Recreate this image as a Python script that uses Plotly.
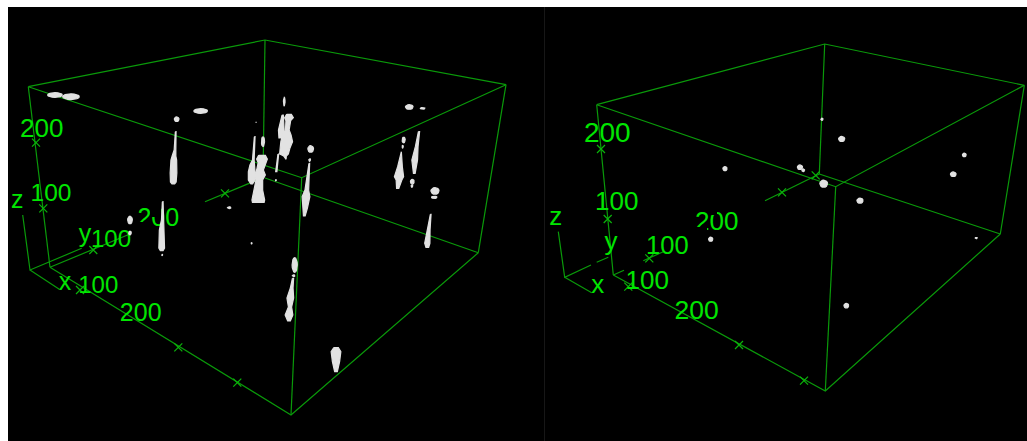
import numpy as np
import plotly.graph_objects as go

# ---- left view: box corners (A-D top, E-H bottom)
L_EDGE_X = [28.3,265,506,301.7,28.3,None,50,291,478.3,None,265,478.3,None,50,130,None,205,263,None,
            28.3,50,None,265,263,None,506,478.3,None,301.7,291,None,
            22.7,30,81.7,None,30,59.3]
L_EDGE_Y = [86.7,40,84.7,177.7,86.7,None,267.3,415,252.7,None,178,252.7,None,267.3,234,None,201.7,177.6,None,
            86.7,267.3,None,40,177.6,None,84.7,252.7,None,177.7,415,None,
            215,270,248.3,None,270,289.3]
L_TICK_X = [80,178.3,237.3,93.3,225,36,43.3]
L_TICK_Y = [290,347.3,382.7,250,193.3,142.7,208.3]
L_LABELS = ["200","100","z","y","100","200","x","100","200"]
L_LABEL_X = [41.7,51,17.3,85,111,158.3,65,98.3,140.7]
L_LABEL_Y = [130,195,201.5,236,241,220,284,287,315]
L_LABEL_SIZE = [26,24.5,25,25,24,25,25,24,25]
# parts of the "200" label hidden by the volume
L_HIDE_X = [135,151,151,135,135,None,150,161,161,150,150]
L_HIDE_Y = [222,222,235,235,222,None,206,206,217,217,206]

# left view: elongated objects, one list per object (row, centre, width)
L_STALK_Y = [
 [131.7,150,156,160,173,182,184],
 [201.7,220,230,248,250.7],
 [115,121.7,130,138],
 [114.3,117.7,120.7,130,135,141.7,148.3,154,156,159.3],
 [154,171.7],
 [136.7,160,165,171.7,180,184],
 [155.3,159,162.7,170,175,180,190,200,202.3],
 [163.3,183.3,190,196.7,208.3,216],
 [278.3,288,298,307,315,321],
 [347.7,351.7,361.7,371.7],
 [151.7,166.7,176.7,180,188.3],
 [131.7,146.7,160,173.3],
 [214.3,230,243.3,247.3],
]
L_STALK_X = [
 [175.7,175,174,173.8,173.5,173.3,173.3],
 [162.7,162.3,161.7,161.7,161.7],
 [282.7,282,281.3,281.3],
 [289,289,288.3,287.3,286.7,286.7,285,284,285,285.7],
 [278.3,276.3],
 [254.7,253.3,252.3,251.7,251.7,251.7],
 [262,262,262,260,260,259.3,258.3,258.3,258.3],
 [309.3,307.3,306.8,306,305,304.3],
 [293,291.7,290.3,290,289,289],
 [336,336,336,336],
 [401.7,400,399,399,397.7],
 [419,416.7,414.7,414.3],
 [430.7,428.7,427.3,427.3],
]
L_STALK_W = [
 [1,2,4,6,7,6,3],
 [1,2,5,6,3],
 [1.5,4,6,5],
 [5,9,5,4,9,12,10,9,3,1],
 [1,1.5],
 [1,2,5,7,7,2],
 [7,11,8,7,11,7,9,13,12],
 [1,3.5,4,8,5,2],
 [1.5,3,7,3.5,8,3],
 [5,10,7.5,3],
 [1,5,9.5,6,2.5],
 [1.5,3,6,2],
 [1,3,5.5,3],
]
# left view: compact objects
L_BLOB_X = [55,71,200.7,176.7,130,130,229.3,251.7,162.3,284.3,256,276,263,310.7,309.7,294.7,293.7,409.3,422.7,403.7,402.7,412.3,412,435,434.3]
L_BLOB_Y = [95,96.7,111,119.3,220,233,207.7,243.3,255,101.7,122.3,180.3,141.7,149,160,265,275.7,107,108.3,140,146.7,181.7,186,191,197.3]
L_BLOB_W = [15,17,14,5,5,3,4,1.5,1.5,2,1,1.5,3.5,6,2,5.5,3,8,5,3.5,1.5,4,2,8.5,6]
L_BLOB_H = [5,6,5,5,8,4,2,1.5,1.5,9,1,1.5,10,7,3,15,2,5,2,6,3,5,3,7,2.5]

# ---- right view
R_EDGE_X = [596.7,824.7,1024.3,835.7,596.7,None,613.3,825.3,1000.3,None,819.3,1000.3,None,613.3,624,None,643.3,663.3,None,765,819.3,None,
            596.7,613.3,None,824.7,819.3,None,1024.3,1000.3,None,835.7,825.3,None,
            558.3,564.7,591,None,596.7,608.3,None,564.7,591.7]
R_EDGE_Y = [104.7,44,85.3,186.7,104.7,None,275,391,234,None,174,234,None,275,270.3,None,260.7,251.7,None,200.7,174,None,
            104.7,275,None,44,174,None,85.3,234,None,186.7,391,None,
            231.7,277.3,265,None,262.3,257.3,None,277.3,292.7]
R_TICK_X = [628.3,739,804,649.3,782,815.7,601,607.7]
R_TICK_Y = [286.7,345,380.7,258.3,192.3,175.3,149,219]
R_LABELS = ["200","100","z","y","100","200","x","100","200"]
R_LABEL_X = [607.3,616.7,555.7,611,667.3,716.7,597.7,647.3,696.7]
R_LABEL_Y = [134.5,203.5,218,243.5,247.5,223,286,282.5,312]
R_LABEL_SIZE = [28,26,26,26,25.5,26,26,26,26.5]
R_HIDE_X = [693,707,707,693,693,None,708,717,717,708,708]
R_HIDE_Y = [227,227,236,236,227,None,207,207,215,215,207]
R_BLOB_X = [822,841.7,725,800,803.3,823.7,860,964.3,953.3,710.7,976.3,846.3]
R_BLOB_Y = [119.3,139,168.7,167.3,170.3,183.7,200.7,155,174.3,239.3,238,305.7]
R_BLOB_W = [2.5,6.5,4.5,5.5,3,8,6.5,4,6,4.5,2.5,5]
R_BLOB_H = [2.5,5.5,4.5,5,3,7.5,5.5,4,5,4.5,1.5,5]

GREEN = "#0a9a0a"
TEXT = "#00e600"
WHITE = "#e2e2e2"
EDGE = 1.2
INSET = 0.3


def ellipses(xs, ys, ws, hs):
    t = np.linspace(0, 2 * np.pi, 17)
    ox, oy = [], []
    for x, y, w, h in zip(xs, ys, ws, hs):
        rw, rh = max(w - INSET, 0.2) / 2, max(h - INSET, 0.2) / 2
        ox += list(x + rw * np.cos(t)) + [None]
        oy += list(y + rh * np.sin(t)) + [None]
    return ox, oy


def outlines(ys, xs, ws):
    ox, oy = [], []
    for y, x, w in zip(ys, xs, ws):
        x, w = np.array(x), np.maximum(np.array(w) - INSET, 0.2)
        ox += list(x - w / 2) + list((x + w / 2)[::-1]) + [x[0] - w[0] / 2, None]
        oy += list(y) + list(y[::-1]) + [y[0], None]
    return ox, oy


def view(fig, ax, ay, ex, ey, tx, ty, lt, lx, ly, ls, hx, hy, bx, by):
    common = dict(xaxis=ax, yaxis=ay, showlegend=False, hoverinfo="skip")
    fig.add_trace(go.Scatter(x=ex, y=ey, mode="lines", line=dict(color=GREEN, width=1.2), **common))
    fig.add_trace(go.Scatter(x=tx, y=ty, mode="markers",
                             marker=dict(symbol="x-thin", size=8, line=dict(color="#0ab40a", width=1.2)), **common))
    fig.add_trace(go.Scatter(x=lx, y=ly, mode="text", text=lt,
                             textfont=dict(family="Liberation Sans", size=ls, color=TEXT), **common))
    fig.add_trace(go.Scatter(x=hx, y=hy, mode="lines", fill="toself", fillcolor="#000000",
                             line=dict(color="#000000", width=0), **common))
    fig.add_trace(go.Scatter(x=bx, y=by, mode="lines", fill="toself", fillcolor=WHITE,
                             line=dict(color=WHITE, width=EDGE), **common))


lbx, lby = ellipses(L_BLOB_X, L_BLOB_Y, L_BLOB_W, L_BLOB_H)
lsx, lsy = outlines(L_STALK_Y, L_STALK_X, L_STALK_W)
rbx, rby = ellipses(R_BLOB_X, R_BLOB_Y, R_BLOB_W, R_BLOB_H)

fig = go.Figure()
view(fig, "x", "y", L_EDGE_X, L_EDGE_Y, L_TICK_X, L_TICK_Y, L_LABELS, L_LABEL_X, L_LABEL_Y, L_LABEL_SIZE,
     L_HIDE_X, L_HIDE_Y, lsx + lbx, lsy + lby)
view(fig, "x2", "y2", R_EDGE_X, R_EDGE_Y, R_TICK_X, R_TICK_Y, R_LABELS, R_LABEL_X, R_LABEL_Y, R_LABEL_SIZE,
     R_HIDE_X, R_HIDE_Y, rbx, rby)

hidden = dict(visible=False, fixedrange=True)
split = (545 - 8) / 1019
fig.update_layout(
    width=1019, height=434, autosize=False,
    margin=dict(l=0, r=0, t=0, b=0),
    paper_bgcolor="#000000", plot_bgcolor="#000000",
    xaxis=dict(domain=[0, split], range=[8, 545], anchor="y", **hidden),
    yaxis=dict(domain=[0, 1], range=[441, 7], anchor="x", **hidden),
    xaxis2=dict(domain=[split, 1], range=[545, 1027], anchor="y2", **hidden),
    yaxis2=dict(domain=[0, 1], range=[441, 7], anchor="x2", **hidden),
    shapes=[dict(type="line", xref="x", yref="paper", x0=545, x1=545, y0=0, y1=1,
                 line=dict(color="#2e2e2e", width=1))],
)
fig.write_html("out.html", config=dict(displayModeBar=False),
               post_script="document.body.style.margin='7px 0 0 8px';document.body.style.overflow='hidden';")
